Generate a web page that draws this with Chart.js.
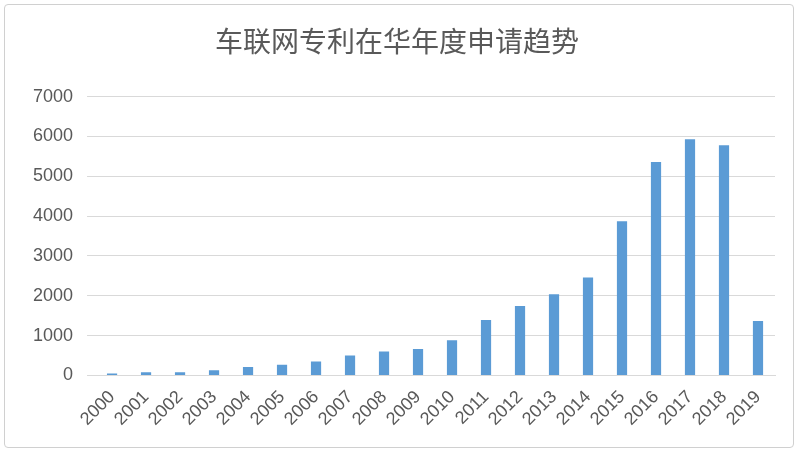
<!DOCTYPE html>
<html>
<head>
<meta charset="utf-8">
<script src="https://cdn.jsdelivr.net/npm/chart.js@4"></script>
<style>
  html, body { margin: 0; padding: 0; background: #fff; }
  #wrap { position: absolute; left: 4px; top: 4px; width: 790px; height: 444px; border: 1px solid #d0d0d0; border-radius: 4px; box-sizing: border-box; }
</style>
</head>
<body>
<div id="wrap"><canvas id="c"></canvas></div>
<script>
const years = ["2000","2001","2002","2003","2004","2005","2006","2007","2008","2009","2010","2011","2012","2013","2014","2015","2016","2017","2018","2019"];
const counts = [50, 80, 80, 130, 210, 270, 350, 500, 600, 660, 880, 1390, 1740, 2035, 2460, 3870, 5360, 5930, 5780, 1365];

new Chart(document.getElementById("c"), {
  type: "bar",
  data: {
    labels: years,
    datasets: [{ data: counts, backgroundColor: "#5B9BD5", barPercentage: 0.6, categoryPercentage: 0.5 }]
  },
  options: {
    responsive: true,
    maintainAspectRatio: false,
    animation: false,
    layout: { padding: { left: 14, right: 18, top: 10, bottom: 14 } },
    plugins: {
      legend: { display: false },
      tooltip: { enabled: false },
      title: {
        display: true,
        text: "车联网专利在华年度申请趋势",
        color: "#595959",
        font: { size: 28, family: "Noto Sans CJK SC", weight: "normal" },
        padding: { top: 10, bottom: 38 }
      }
    },
    scales: {
      x: {
        grid: { display: false },
        border: { color: "#d9d9d9" },
        ticks: { color: "#595959", font: { size: 18, family: "Liberation Sans" }, maxRotation: 45, minRotation: 45, autoSkip: false }
      },
      y: {
        min: 0, max: 7000,
        ticks: { stepSize: 1000, color: "#595959", font: { size: 18, family: "Liberation Sans" }, padding: 14, callback: v => String(v) },
        grid: { color: "#d9d9d9" },
        border: { display: false }
      }
    }
  }
});
</script>
</body>
</html>
